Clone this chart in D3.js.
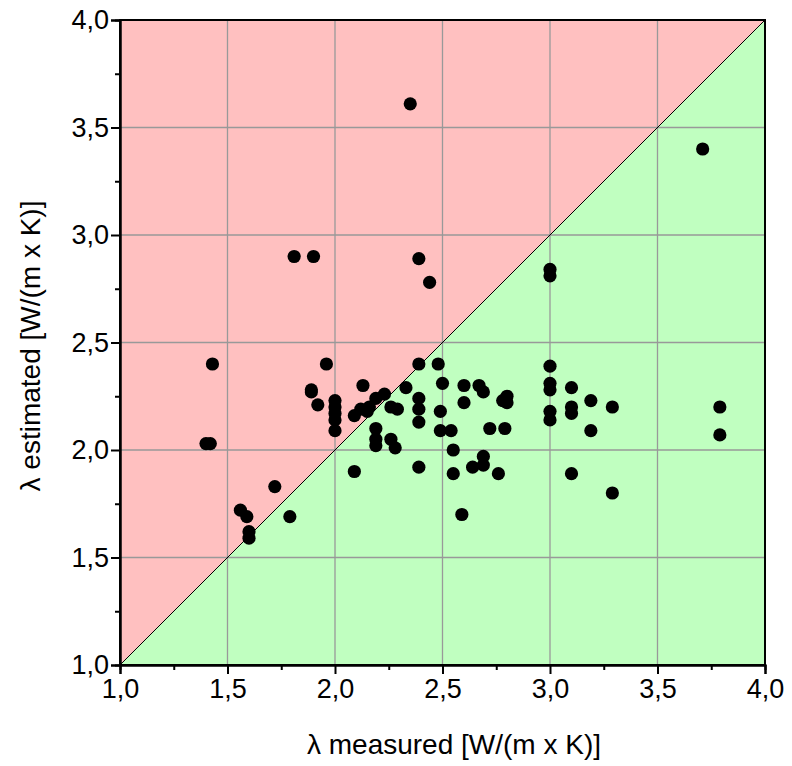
<!DOCTYPE html>
<html><head><meta charset="utf-8">
<script src="https://cdn.jsdelivr.net/npm/d3@7"></script>
<style>body{margin:0;background:#fff}svg{display:block}</style>
</head><body>
<svg id="chart" width="792" height="766"></svg>
<script>
const measured = [2.35,3.71,1.81,1.90,2.39,2.44,3.00,3.00,1.43,1.40,1.42,1.72,1.56,1.59,1.60,1.60,1.79,1.96,1.89,1.89,1.92,2.00,2.00,2.00,2.00,2.00,2.09,2.12,2.15,2.16,2.19,2.23,2.13,2.33,2.26,2.29,2.19,2.19,2.19,2.26,2.28,2.09,2.39,2.48,2.50,2.39,2.39,2.39,2.49,2.49,2.54,2.55,2.60,2.67,2.69,2.60,2.78,2.80,2.80,2.72,2.79,2.39,2.55,2.64,2.69,2.69,2.76,2.59,3.00,3.00,3.00,3.00,3.00,3.10,3.10,3.10,3.19,3.19,3.29,3.79,3.79,3.10,3.29];
const estimated = [3.61,3.40,2.90,2.90,2.89,2.78,2.84,2.81,2.40,2.03,2.03,1.83,1.72,1.69,1.62,1.59,1.69,2.40,2.28,2.27,2.21,2.23,2.20,2.17,2.14,2.09,2.16,2.19,2.18,2.20,2.24,2.26,2.30,2.29,2.20,2.19,2.10,2.05,2.02,2.05,2.01,1.90,2.40,2.40,2.31,2.24,2.19,2.13,2.18,2.09,2.09,2.00,2.30,2.30,2.27,2.22,2.23,2.25,2.22,2.10,2.10,1.92,1.89,1.92,1.97,1.93,1.89,1.70,2.39,2.31,2.28,2.18,2.14,2.29,2.20,2.17,2.23,2.09,2.20,2.20,2.07,1.89,1.80];
const majorTicks = [1.0,1.5,2.0,2.5,3.0,3.5,4.0];
const minorTicks = [1.25,1.75,2.25,2.75,3.25,3.75];
const xTitle = "λ measured [W/(m x K)]";
const yTitle = "λ estimated [W/(m x K)]";

const svg = d3.select("#chart");
const m = {l:120, t:20, r:27, b:101};
const W = 792, H = 766;
const x = d3.scaleLinear().domain([1,4]).range([m.l, W-m.r]);
const y = d3.scaleLinear().domain([1,4]).range([H-m.b, m.t]);
const fmt = v => d3.format(".1f")(v).replace(".", ",");

// regions
svg.append("path").attr("fill","#FFC0C0")
  .attr("d", d3.line()([[x(1),y(1)],[x(1),y(4)],[x(4),y(4)]]) + "Z");
svg.append("path").attr("fill","#C0FFC0")
  .attr("d", d3.line()([[x(1),y(1)],[x(4),y(4)],[x(4),y(1)]]) + "Z");

// grid
const g = svg.append("g");
majorTicks.slice(1,-1).forEach(t=>{
  g.append("line").attr("x1",x(t)).attr("x2",x(t)).attr("y1",y(1)).attr("y2",y(4)).attr("stroke","#999").attr("stroke-width",1.3);
  g.append("line").attr("y1",y(t)).attr("y2",y(t)).attr("x1",x(1)).attr("x2",x(4)).attr("stroke","#999").attr("stroke-width",1.3);
});

// diagonal
svg.append("line").attr("x1",x(1)).attr("y1",y(1)).attr("x2",x(4)).attr("y2",y(4)).attr("stroke","#000").attr("stroke-width",1);

// points
svg.append("g").selectAll("circle").data(measured.map((d,i)=>[d,estimated[i]])).join("circle")
  .attr("cx",d=>x(d[0])).attr("cy",d=>y(d[1])).attr("r",6.6).attr("fill","#000");

// frame
svg.append("rect").attr("x",x(1)).attr("y",y(4)).attr("width",x(4)-x(1)).attr("height",y(1)-y(4))
  .attr("fill","none").attr("stroke","#000").attr("stroke-width",2);

// axes
const font = "'Liberation Sans', Arial, sans-serif";
svg.append("g").attr("transform",`translate(0,${y(1)})`)
  .call(d3.axisBottom(x).tickValues(majorTicks).tickFormat(fmt).tickSize(9).tickPadding(5));
svg.append("g").attr("transform",`translate(0,${y(1)})`)
  .call(d3.axisBottom(x).tickValues(minorTicks).tickFormat("").tickSize(5));
svg.append("g").attr("transform",`translate(${x(1)},0)`)
  .call(d3.axisLeft(y).tickValues(majorTicks).tickFormat(fmt).tickSize(9).tickPadding(2));
svg.append("g").attr("transform",`translate(${x(1)},0)`)
  .call(d3.axisLeft(y).tickValues(minorTicks).tickFormat("").tickSize(5));
svg.selectAll(".domain").attr("stroke","#000").attr("stroke-width",2);
svg.selectAll(".tick line").attr("stroke","#000").attr("stroke-width",2);
svg.selectAll(".tick text").attr("font-family",font).attr("font-size",27).attr("fill","#000");

// titles
svg.append("text").attr("x",454).attr("y",754).attr("text-anchor","middle")
  .attr("font-family",font).attr("font-size",28).text(xTitle);
svg.append("text").attr("transform",`translate(40,346) rotate(-90)`).attr("text-anchor","middle")
  .attr("font-family",font).attr("font-size",28).text(yTitle);
</script>
</body></html>
